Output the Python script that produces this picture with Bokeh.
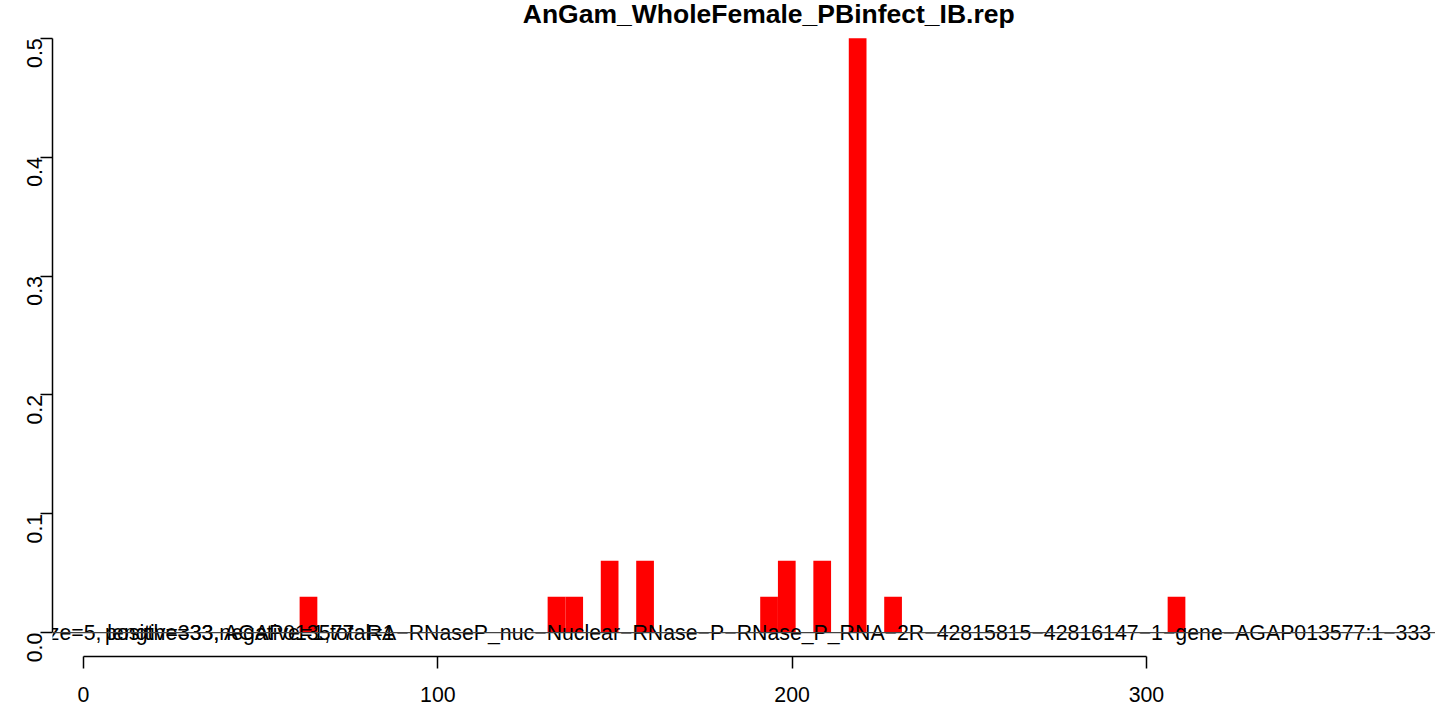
import math
from bokeh.plotting import figure
from bokeh.models import Range1d, FixedTicker, PrintfTickFormatter, Span, Label, ColumnDataSource
from bokeh.core.properties import value
from bokeh.embed import file_html
from bokeh.resources import INLINE

# ---- data ----
title_text = "AnGam_WholeFemale_PBinfect_IB.rep"
bin_start = [61, 131, 136, 146, 156, 191, 196, 206, 216, 226, 306]
bin_value = [0.0303, 0.0303, 0.0303, 0.0606, 0.0606, 0.0303, 0.0606, 0.0606, 0.5, 0.0303, 0.0303]
bin_width = 5
x_ticks = [0, 100, 200, 300]
y_ticks = [0.0, 0.1, 0.2, 0.3, 0.4, 0.5]
info_right = ("ze=5, length=333, AGAP013577\u2212RA\u2212RNaseP_nuc\u2212Nuclear\u2212RNase\u2212P\u2212"
              "RNase_P_RNA\u22122R\u221242815815\u221242816147\u22121\u2212gene\u2212AGAP013577:1\u2212333")
info_left = "positive=33,negative=1,total=1"

FONT = "Liberation Sans"
FS = "21.3px"

p = figure(width=1435, height=709, title=None,
           x_range=Range1d(-8.75, 381.6), y_range=Range1d(-0.02, 0.5318),
           output_backend="svg", toolbar_location=None,
           min_border_left=52, min_border_right=0, min_border_top=0, min_border_bottom=53)
p.grid.visible = False
p.outline_line_color = None
p.background_fill_color = "white"
p.border_fill_color = "white"

src = ColumnDataSource(dict(left=bin_start,
                            right=[s + bin_width for s in bin_start],
                            top=bin_value,
                            bottom=[0] * len(bin_start)))
p.quad(left="left", right="right", top="top", bottom="bottom", source=src,
       fill_color="#FF0000", line_color=None)

p.add_layout(Span(location=0, dimension="width", line_color="#444444", line_width=1.2))

p.text(x=[380.7], y=[0], text=[info_right], text_align="right", text_baseline="alphabetic",
       text_font=value(FONT), text_font_size=FS, text_color="black")
p.text(x=[6.1], y=[0], text=[info_left], text_align="left", text_baseline="alphabetic",
       text_font=value(FONT), text_font_size=FS, text_color="black")

# axes
for ax in (p.xaxis[0], p.yaxis[0]):
    ax.minor_tick_line_color = None
    ax.major_tick_in = 0
    ax.major_tick_out = 12
    ax.axis_line_width = 1.5
    ax.major_tick_line_width = 1.5
    ax.axis_line_color = "black"
    ax.major_tick_line_color = "black"
    ax.major_label_text_font = FONT
    ax.major_label_text_font_size = FS
    ax.major_label_text_color = "black"

p.xaxis.ticker = FixedTicker(ticks=x_ticks)
p.xaxis.bounds = (0, 300)
p.xaxis.major_label_standoff = 18

p.yaxis.ticker = FixedTicker(ticks=y_ticks)
p.yaxis.bounds = (0, 0.5)
p.yaxis.formatter = PrintfTickFormatter(format="%.1f")
p.yaxis.major_label_orientation = math.pi / 2
p.yaxis.major_label_standoff = 6

p.add_layout(Label(x=193.4, y=0.5205, text=title_text, text_align="center", text_baseline="alphabetic",
                   text_font=FONT, text_font_size="26.5px", text_font_style="bold", text_color="black"))

open("out.html", "w").write(file_html(p, INLINE))
